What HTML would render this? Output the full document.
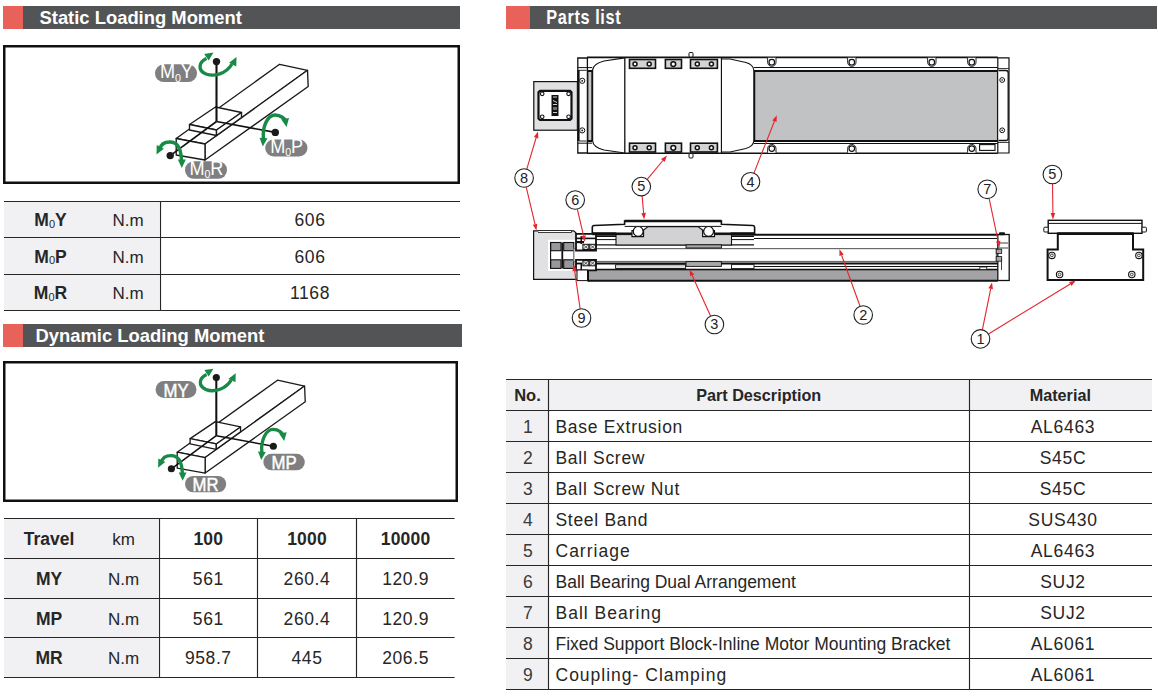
<!DOCTYPE html>
<html><head><meta charset="utf-8"><style>
html,body{margin:0;padding:0;background:#fff;}
body{width:1158px;height:698px;overflow:hidden;position:relative;}
svg{position:absolute;left:0;top:0;font-family:"Liberation Sans", sans-serif;}
</style></head><body>
<svg width="1158" height="698" viewBox="0 0 1158 698">
<rect x="3" y="6" width="20" height="23" fill="#e9625a"/>
<rect x="23" y="6" width="437" height="23" fill="#535456"/>
<text x="39.5" y="24" font-size="18.4" font-weight="bold" fill="#fff" letter-spacing="0">Static Loading Moment</text>
<rect x="3" y="324" width="20" height="23" fill="#e9625a"/>
<rect x="23" y="324" width="439" height="23" fill="#535456"/>
<text x="35.5" y="342" font-size="18.4" font-weight="bold" fill="#fff" letter-spacing="0">Dynamic Loading Moment</text>
<rect x="506" y="6" width="24" height="23" fill="#e9625a"/>
<rect x="530" y="6" width="627" height="23" fill="#535456"/>
<text x="546.5" y="24" font-size="18.6" font-weight="bold" fill="#fff" letter-spacing="-0.3"></text>
<g transform="translate(546.3,23.9) scale(0.83,1)"><text x="0" y="0" font-size="19.6" font-weight="bold" fill="#fff" letter-spacing="0.75">Parts list</text></g>
<rect x="4.25" y="46.25" width="454.5" height="136.5" fill="none" stroke="#111" stroke-width="2.5"/>
<rect x="4.25" y="362.25" width="452.5" height="138.5" fill="none" stroke="#111" stroke-width="2.5"/>
<g transform="translate(0,0)">
<polygon points="176.2,138.5 205,144 307.5,70.3 279.6,64.3" fill="#fff" stroke="#1a1a1a" stroke-width="1.35"  stroke-linejoin="round"/>
<polygon points="205,144 205,160 308.2,86.5 307.5,70.3" fill="#fff" stroke="#1a1a1a" stroke-width="1.35"  stroke-linejoin="round"/>
<polygon points="176.2,138.5 205,144 205,160 176.2,155" fill="#fff" stroke="#1a1a1a" stroke-width="1.35"  stroke-linejoin="round"/>
<polygon points="189.5,124.5 215.5,107 241.5,112.5 216.5,130" fill="#fff" stroke="#1a1a1a" stroke-width="1.35"  stroke-linejoin="round"/>
<polygon points="189.5,124.5 216.5,130 216.5,135.5 189.5,130" fill="#fff" stroke="#1a1a1a" stroke-width="1.35"  stroke-linejoin="round"/>
<polygon points="216.5,130 241.5,112.5 241.5,117.5 216.5,135.5" fill="#fff" stroke="#1a1a1a" stroke-width="1.35"  stroke-linejoin="round"/>
<line x1="216.5" y1="61.6" x2="216.5" y2="121.5" stroke="#111" stroke-width="2.1"/>
<line x1="216.5" y1="121.5" x2="275.3" y2="132.4" stroke="#111" stroke-width="1.6"/>
<line x1="216.5" y1="121.5" x2="170.2" y2="155.6" stroke="#111" stroke-width="1.6"/>
<circle cx="216.5" cy="61.6" r="3.7" fill="#1a1a1a"/>
<circle cx="275.3" cy="132.4" r="3.7" fill="#1a1a1a"/>
<circle cx="170.2" cy="155.6" r="3.7" fill="#1a1a1a"/>
<path d="M206.5,58.5 C199,62 197,70 206,74 C214,77 226,74 232,64" stroke="#178a45" stroke-width="3.4" fill="none" stroke-linecap="butt"/>
<polygon points="213.50,52.50 208.65,60.54 204.21,53.89" fill="#178a45"/>
<polygon points="236.50,57.00 236.28,66.39 229.12,62.81" fill="#178a45"/>
<path d="M263.5,139 C262,126 268,115 275,115 C281,115 285,119 285.5,121" stroke="#178a45" stroke-width="3.4" fill="none" stroke-linecap="butt"/>
<polygon points="262.80,146.50 259.52,137.70 267.49,138.36" fill="#178a45"/>
<polygon points="286.50,127.00 281.16,119.27 289.05,117.96" fill="#178a45"/>
<path d="M160,149 C161,143 166,142 170,142 C177,142 181,147 181.5,160" stroke="#178a45" stroke-width="3.4" fill="none" stroke-linecap="butt"/>
<polygon points="156.50,154.50 156.72,145.11 163.88,148.69" fill="#178a45"/>
<polygon points="181.80,168.00 177.80,159.50 185.80,159.50" fill="#178a45"/>
</g>
<rect x="155" y="64.3" width="42" height="17.700000000000003" rx="8.850000000000001" fill="#7f7f82"/>
<g transform="translate(176.3,78.4) scale(0.93,1)"><text x="0" y="0" text-anchor="middle" font-size="19.5" fill="#fff" letter-spacing="-0.2">M<tspan font-size="11.5" dy="3.2">0</tspan><tspan dy="-3.2">Y</tspan></text></g>
<rect x="265.2" y="139.5" width="42.30000000000001" height="17.0" rx="8.5" fill="#7f7f82"/>
<g transform="translate(286.65000000000003,152.9) scale(0.93,1)"><text x="0" y="0" text-anchor="middle" font-size="19.5" fill="#fff" letter-spacing="-0.2">M<tspan font-size="11.5" dy="3.2">0</tspan><tspan dy="-3.2">P</tspan></text></g>
<rect x="185" y="161.3" width="42" height="17.399999999999977" rx="8.699999999999989" fill="#7f7f82"/>
<g transform="translate(206.3,175.1) scale(0.93,1)"><text x="0" y="0" text-anchor="middle" font-size="19.5" fill="#fff" letter-spacing="-0.2">M<tspan font-size="11.5" dy="3.2">0</tspan><tspan dy="-3.2">R</tspan></text></g>
<g transform="translate(216.3,377.6) scale(0.97) translate(-216.5,-61.6)">
<g transform="translate(0,0)">
<polygon points="176.2,138.5 205,144 307.5,70.3 279.6,64.3" fill="#fff" stroke="#1a1a1a" stroke-width="1.35"  stroke-linejoin="round"/>
<polygon points="205,144 205,160 308.2,86.5 307.5,70.3" fill="#fff" stroke="#1a1a1a" stroke-width="1.35"  stroke-linejoin="round"/>
<polygon points="176.2,138.5 205,144 205,160 176.2,155" fill="#fff" stroke="#1a1a1a" stroke-width="1.35"  stroke-linejoin="round"/>
<polygon points="189.5,124.5 215.5,107 241.5,112.5 216.5,130" fill="#fff" stroke="#1a1a1a" stroke-width="1.35"  stroke-linejoin="round"/>
<polygon points="189.5,124.5 216.5,130 216.5,135.5 189.5,130" fill="#fff" stroke="#1a1a1a" stroke-width="1.35"  stroke-linejoin="round"/>
<polygon points="216.5,130 241.5,112.5 241.5,117.5 216.5,135.5" fill="#fff" stroke="#1a1a1a" stroke-width="1.35"  stroke-linejoin="round"/>
<line x1="216.5" y1="61.6" x2="216.5" y2="121.5" stroke="#111" stroke-width="2.1"/>
<line x1="216.5" y1="121.5" x2="275.3" y2="132.4" stroke="#111" stroke-width="1.6"/>
<line x1="216.5" y1="121.5" x2="170.2" y2="155.6" stroke="#111" stroke-width="1.6"/>
<circle cx="216.5" cy="61.6" r="3.7" fill="#1a1a1a"/>
<circle cx="275.3" cy="132.4" r="3.7" fill="#1a1a1a"/>
<circle cx="170.2" cy="155.6" r="3.7" fill="#1a1a1a"/>
<path d="M206.5,58.5 C199,62 197,70 206,74 C214,77 226,74 232,64" stroke="#178a45" stroke-width="3.4" fill="none" stroke-linecap="butt"/>
<polygon points="213.50,52.50 208.65,60.54 204.21,53.89" fill="#178a45"/>
<polygon points="236.50,57.00 236.28,66.39 229.12,62.81" fill="#178a45"/>
<path d="M263.5,139 C262,126 268,115 275,115 C281,115 285,119 285.5,121" stroke="#178a45" stroke-width="3.4" fill="none" stroke-linecap="butt"/>
<polygon points="262.80,146.50 259.52,137.70 267.49,138.36" fill="#178a45"/>
<polygon points="286.50,127.00 281.16,119.27 289.05,117.96" fill="#178a45"/>
<path d="M160,149 C161,143 166,142 170,142 C177,142 181,147 181.5,160" stroke="#178a45" stroke-width="3.4" fill="none" stroke-linecap="butt"/>
<polygon points="156.50,154.50 156.72,145.11 163.88,148.69" fill="#178a45"/>
<polygon points="181.80,168.00 177.80,159.50 185.80,159.50" fill="#178a45"/>
</g>
</g>
<rect x="155.6" y="381" width="40.900000000000006" height="17" rx="8.5" fill="#7f7f82"/>
<g transform="translate(176.05,396.5) scale(0.93,1)"><text x="0" y="0" text-anchor="middle" font-size="18" fill="#fff" stroke="#fff" stroke-width="0.45">MY</text></g>
<rect x="263.3" y="453.8" width="41.5" height="16.5" rx="8.25" fill="#7f7f82"/>
<g transform="translate(284.05,468.8) scale(0.93,1)"><text x="0" y="0" text-anchor="middle" font-size="18" fill="#fff" stroke="#fff" stroke-width="0.45">MP</text></g>
<rect x="185" y="475.9" width="41.19999999999999" height="16.400000000000034" rx="8.200000000000017" fill="#7f7f82"/>
<g transform="translate(205.6,490.8) scale(0.93,1)"><text x="0" y="0" text-anchor="middle" font-size="18" fill="#fff" stroke="#fff" stroke-width="0.45">MR</text></g>
<rect x="4" y="202" width="155" height="108" fill="#f1f1f4"/>
<line x1="4" y1="201.5" x2="460" y2="201.5" stroke="#262626" stroke-width="1.15"/>
<line x1="4" y1="237.5" x2="460" y2="237.5" stroke="#262626" stroke-width="1.15"/>
<line x1="4" y1="274.5" x2="460" y2="274.5" stroke="#262626" stroke-width="1.15"/>
<line x1="4" y1="310.5" x2="460" y2="310.5" stroke="#262626" stroke-width="1.15"/>
<line x1="160.5" y1="201" x2="160.5" y2="311" stroke="#262626" stroke-width="1.15"/>
<text x="50.5" y="226.3" text-anchor="middle" font-size="17.5" font-weight="bold" fill="#262626">M<tspan font-size="11" font-weight="normal" dy="1.5">0</tspan><tspan dy="-1.5">Y</tspan></text>
<text x="128" y="226.3" font-size="17" font-weight="normal" text-anchor="middle" letter-spacing="0" fill="#262626" >N.m</text>
<text x="310" y="226.3" font-size="17.5" font-weight="normal" text-anchor="middle" letter-spacing="0.6" fill="#262626" >606</text>
<text x="50.5" y="262.8" text-anchor="middle" font-size="17.5" font-weight="bold" fill="#262626">M<tspan font-size="11" font-weight="normal" dy="1.5">0</tspan><tspan dy="-1.5">P</tspan></text>
<text x="128" y="262.8" font-size="17" font-weight="normal" text-anchor="middle" letter-spacing="0" fill="#262626" >N.m</text>
<text x="310" y="262.8" font-size="17.5" font-weight="normal" text-anchor="middle" letter-spacing="0.6" fill="#262626" >606</text>
<text x="50.5" y="299.3" text-anchor="middle" font-size="17.5" font-weight="bold" fill="#262626">M<tspan font-size="11" font-weight="normal" dy="1.5">0</tspan><tspan dy="-1.5">R</tspan></text>
<text x="128" y="299.3" font-size="17" font-weight="normal" text-anchor="middle" letter-spacing="0" fill="#262626" >N.m</text>
<text x="310" y="299.3" font-size="17.5" font-weight="normal" text-anchor="middle" letter-spacing="0.6" fill="#262626" >1168</text>
<rect x="4" y="519" width="154" height="158" fill="#f1f1f4"/>
<line x1="4" y1="518.5" x2="454.6" y2="518.5" stroke="#262626" stroke-width="1.15"/>
<line x1="4" y1="558.5" x2="454.6" y2="558.5" stroke="#262626" stroke-width="1.15"/>
<line x1="4" y1="598.5" x2="454.6" y2="598.5" stroke="#262626" stroke-width="1.15"/>
<line x1="4" y1="637.5" x2="454.6" y2="637.5" stroke="#262626" stroke-width="1.15"/>
<line x1="4" y1="677.5" x2="454.6" y2="677.5" stroke="#262626" stroke-width="1.15"/>
<line x1="159.5" y1="518" x2="159.5" y2="678" stroke="#262626" stroke-width="1.15"/>
<line x1="257.5" y1="518" x2="257.5" y2="678" stroke="#262626" stroke-width="1.15"/>
<line x1="356.5" y1="518" x2="356.5" y2="678" stroke="#262626" stroke-width="1.15"/>
<text x="49" y="545.0" font-size="17.5" font-weight="bold" text-anchor="middle" letter-spacing="0" fill="#262626" >Travel</text>
<text x="123.5" y="545.0" font-size="17" font-weight="normal" text-anchor="middle" letter-spacing="0" fill="#262626" >km</text>
<text x="208.3" y="545.0" font-size="17.5" font-weight="bold" text-anchor="middle" letter-spacing="0.2" fill="#262626" >100</text>
<text x="307" y="545.0" font-size="17.5" font-weight="bold" text-anchor="middle" letter-spacing="0.2" fill="#262626" >1000</text>
<text x="405.6" y="545.0" font-size="17.5" font-weight="bold" text-anchor="middle" letter-spacing="0.2" fill="#262626" >10000</text>
<text x="49" y="585.0" font-size="17.5" font-weight="bold" text-anchor="middle" letter-spacing="0" fill="#262626" >MY</text>
<text x="123.5" y="585.0" font-size="17" font-weight="normal" text-anchor="middle" letter-spacing="0" fill="#262626" >N.m</text>
<text x="208.3" y="585.0" font-size="17.5" font-weight="normal" text-anchor="middle" letter-spacing="0.6" fill="#262626" >561</text>
<text x="307" y="585.0" font-size="17.5" font-weight="normal" text-anchor="middle" letter-spacing="0.6" fill="#262626" >260.4</text>
<text x="405.6" y="585.0" font-size="17.5" font-weight="normal" text-anchor="middle" letter-spacing="0.6" fill="#262626" >120.9</text>
<text x="49" y="624.5" font-size="17.5" font-weight="bold" text-anchor="middle" letter-spacing="0" fill="#262626" >MP</text>
<text x="123.5" y="624.5" font-size="17" font-weight="normal" text-anchor="middle" letter-spacing="0" fill="#262626" >N.m</text>
<text x="208.3" y="624.5" font-size="17.5" font-weight="normal" text-anchor="middle" letter-spacing="0.6" fill="#262626" >561</text>
<text x="307" y="624.5" font-size="17.5" font-weight="normal" text-anchor="middle" letter-spacing="0.6" fill="#262626" >260.4</text>
<text x="405.6" y="624.5" font-size="17.5" font-weight="normal" text-anchor="middle" letter-spacing="0.6" fill="#262626" >120.9</text>
<text x="49" y="664.0" font-size="17.5" font-weight="bold" text-anchor="middle" letter-spacing="0" fill="#262626" >MR</text>
<text x="123.5" y="664.0" font-size="17" font-weight="normal" text-anchor="middle" letter-spacing="0" fill="#262626" >N.m</text>
<text x="208.3" y="664.0" font-size="17.5" font-weight="normal" text-anchor="middle" letter-spacing="0.6" fill="#262626" >958.7</text>
<text x="307" y="664.0" font-size="17.5" font-weight="normal" text-anchor="middle" letter-spacing="0.6" fill="#262626" >445</text>
<text x="405.6" y="664.0" font-size="17.5" font-weight="normal" text-anchor="middle" letter-spacing="0.6" fill="#262626" >206.5</text>
<rect x="506" y="380" width="646" height="30" fill="#f1f1f4"/>
<rect x="506" y="411" width="42" height="278" fill="#f1f1f4"/>
<line x1="506" y1="379.5" x2="1152" y2="379.5" stroke="#262626" stroke-width="1.15"/>
<line x1="506" y1="410.5" x2="1152" y2="410.5" stroke="#262626" stroke-width="1.15"/>
<line x1="506" y1="441.5" x2="1152" y2="441.5" stroke="#262626" stroke-width="1.15"/>
<line x1="506" y1="472.5" x2="1152" y2="472.5" stroke="#262626" stroke-width="1.15"/>
<line x1="506" y1="503.5" x2="1152" y2="503.5" stroke="#262626" stroke-width="1.15"/>
<line x1="506" y1="534.5" x2="1152" y2="534.5" stroke="#262626" stroke-width="1.15"/>
<line x1="506" y1="565.5" x2="1152" y2="565.5" stroke="#262626" stroke-width="1.15"/>
<line x1="506" y1="596.5" x2="1152" y2="596.5" stroke="#262626" stroke-width="1.15"/>
<line x1="506" y1="627.5" x2="1152" y2="627.5" stroke="#262626" stroke-width="1.15"/>
<line x1="506" y1="658.5" x2="1152" y2="658.5" stroke="#262626" stroke-width="1.15"/>
<line x1="506" y1="689.5" x2="1152" y2="689.5" stroke="#262626" stroke-width="1.15"/>
<line x1="548.5" y1="379" x2="548.5" y2="690" stroke="#262626" stroke-width="1.15"/>
<line x1="969.5" y1="379" x2="969.5" y2="690" stroke="#262626" stroke-width="1.15"/>
<text x="527.5" y="400.8" font-size="16.5" font-weight="bold" text-anchor="middle" letter-spacing="0" fill="#262626" >No.</text>
<text x="758.7" y="400.8" font-size="16.2" font-weight="bold" text-anchor="middle" letter-spacing="0" fill="#262626" >Part Description</text>
<text x="1060.3" y="400.8" font-size="16.2" font-weight="bold" text-anchor="middle" letter-spacing="0" fill="#262626" >Material</text>
<text x="527.8" y="432.5" font-size="17.5" font-weight="normal" text-anchor="middle" letter-spacing="0" fill="#3a3a3a" >1</text>
<text x="555.5" y="432.5" font-size="17.5" font-weight="normal" text-anchor="start" letter-spacing="0.7" fill="#262626" >Base Extrusion</text>
<text x="1063" y="432.5" font-size="17.5" font-weight="normal" text-anchor="middle" letter-spacing="0.7" fill="#262626" >AL6463</text>
<text x="527.8" y="463.5" font-size="17.5" font-weight="normal" text-anchor="middle" letter-spacing="0" fill="#3a3a3a" >2</text>
<text x="555.5" y="463.5" font-size="17.5" font-weight="normal" text-anchor="start" letter-spacing="0.7" fill="#262626" >Ball Screw</text>
<text x="1063" y="463.5" font-size="17.5" font-weight="normal" text-anchor="middle" letter-spacing="0.7" fill="#262626" >S45C</text>
<text x="527.8" y="494.5" font-size="17.5" font-weight="normal" text-anchor="middle" letter-spacing="0" fill="#3a3a3a" >3</text>
<text x="555.5" y="494.5" font-size="17.5" font-weight="normal" text-anchor="start" letter-spacing="0.7" fill="#262626" >Ball Screw Nut</text>
<text x="1063" y="494.5" font-size="17.5" font-weight="normal" text-anchor="middle" letter-spacing="0.7" fill="#262626" >S45C</text>
<text x="527.8" y="525.5" font-size="17.5" font-weight="normal" text-anchor="middle" letter-spacing="0" fill="#3a3a3a" >4</text>
<text x="555.5" y="525.5" font-size="17.5" font-weight="normal" text-anchor="start" letter-spacing="0.7" fill="#262626" >Steel Band</text>
<text x="1063" y="525.5" font-size="17.5" font-weight="normal" text-anchor="middle" letter-spacing="0.7" fill="#262626" >SUS430</text>
<text x="527.8" y="556.5" font-size="17.5" font-weight="normal" text-anchor="middle" letter-spacing="0" fill="#3a3a3a" >5</text>
<text x="555.5" y="556.5" font-size="17.5" font-weight="normal" text-anchor="start" letter-spacing="1.0" fill="#262626" >Carriage</text>
<text x="1063" y="556.5" font-size="17.5" font-weight="normal" text-anchor="middle" letter-spacing="0.7" fill="#262626" >AL6463</text>
<text x="527.8" y="587.5" font-size="17.5" font-weight="normal" text-anchor="middle" letter-spacing="0" fill="#3a3a3a" >6</text>
<text x="555.5" y="587.5" font-size="17.5" font-weight="normal" text-anchor="start" letter-spacing="0" fill="#262626" >Ball Bearing Dual Arrangement</text>
<text x="1063" y="587.5" font-size="17.5" font-weight="normal" text-anchor="middle" letter-spacing="0.7" fill="#262626" >SUJ2</text>
<text x="527.8" y="618.5" font-size="17.5" font-weight="normal" text-anchor="middle" letter-spacing="0" fill="#3a3a3a" >7</text>
<text x="555.5" y="618.5" font-size="17.5" font-weight="normal" text-anchor="start" letter-spacing="1.0" fill="#262626" >Ball Bearing</text>
<text x="1063" y="618.5" font-size="17.5" font-weight="normal" text-anchor="middle" letter-spacing="0.7" fill="#262626" >SUJ2</text>
<text x="527.8" y="649.5" font-size="17.5" font-weight="normal" text-anchor="middle" letter-spacing="0" fill="#3a3a3a" >8</text>
<text x="555.5" y="649.5" font-size="17.5" font-weight="normal" text-anchor="start" letter-spacing="0" fill="#262626" >Fixed Support Block-Inline Motor Mounting Bracket</text>
<text x="1063" y="649.5" font-size="17.5" font-weight="normal" text-anchor="middle" letter-spacing="0.7" fill="#262626" >AL6061</text>
<text x="527.8" y="680.5" font-size="17.5" font-weight="normal" text-anchor="middle" letter-spacing="0" fill="#3a3a3a" >9</text>
<text x="555.5" y="680.5" font-size="17.5" font-weight="normal" text-anchor="start" letter-spacing="1.0" fill="#262626" >Coupling- Clamping</text>
<text x="1063" y="680.5" font-size="17.5" font-weight="normal" text-anchor="middle" letter-spacing="0.7" fill="#262626" >AL6061</text>
<rect x="533.8" y="81.6" width="43.6" height="48.6" fill="#e1e1e3" stroke="#111" stroke-width="1.2"/>
<path d="M540,90.8 H570 L571.5,92.3 V118.5 L570,120 H540 L538.5,118.5 V92.3 Z" fill="#fff" stroke="#111" stroke-width="2.2"/>
<circle cx="542.2" cy="93.8" r="1.8" fill="none" stroke="#111" stroke-width="1.1"/>
<circle cx="568.6" cy="93.8" r="1.8" fill="none" stroke="#111" stroke-width="1.1"/>
<circle cx="542.2" cy="116.8" r="1.8" fill="none" stroke="#111" stroke-width="1.1"/>
<circle cx="568.6" cy="116.8" r="1.8" fill="none" stroke="#111" stroke-width="1.1"/>
<rect x="551.5" y="95" width="7" height="21" fill="#111"/>
<path d="M553,97 H557 M553,100.5 L557,102.5 M553,104.5 H557 M554,107 V110 M556,107 V110 M553,112.5 H557" stroke="#fff" stroke-width="0.8" fill="none"/>
<rect x="577.6" y="57.6" width="431.4" height="95.6" fill="#fff" stroke="none"/>
<path d="M577.8,153 V58 H587.4 V153 Z" fill="#fff" stroke="#111" stroke-width="1.3"/>
<line x1="577.8" y1="67.6" x2="592" y2="67.6" stroke="#111" stroke-width="1"/>
<line x1="577.8" y1="143.2" x2="592" y2="143.2" stroke="#111" stroke-width="1"/>
<line x1="578.5" y1="70" x2="578.5" y2="141" stroke="#111" stroke-width="2.2"/>
<path d="M579,70.3 H586.5 M579,141 H586.5" stroke="#111" stroke-width="0.9" fill="none"/>
<circle cx="582.2" cy="80.8" r="2.6" fill="#fff" stroke="#111" stroke-width="1"/><circle cx="582.2" cy="80.8" r="0.9" fill="#111"/>
<circle cx="582.2" cy="130.4" r="2.6" fill="#fff" stroke="#111" stroke-width="1"/><circle cx="582.2" cy="130.4" r="0.9" fill="#111"/>
<rect x="587.9" y="71.5" width="3.9" height="69" fill="#c4c6c8" stroke="#111" stroke-width="1"/>
<rect x="587.6" y="70" width="4.4" height="1.6" fill="#111"/>
<rect x="587.6" y="140.5" width="4.4" height="1.6" fill="#111"/>
<line x1="587" y1="57.4" x2="997.8" y2="57.4" stroke="#111" stroke-width="1.8"/>
<line x1="587" y1="153.2" x2="997.8" y2="153.2" stroke="#111" stroke-width="1.6"/>
<path d="M625,57.8 L604,61 C596,63 593,66 592.6,70 V141 C593,145 596,148 604,150 L625,153" fill="#fff" stroke="#111" stroke-width="1.2"/>
<line x1="624.8" y1="57.8" x2="624.8" y2="153" stroke="#111" stroke-width="1.3"/>
<line x1="721.5" y1="57.8" x2="721.5" y2="153" stroke="#111" stroke-width="1.3"/>
<path d="M722,59 L730,59 L746,62.5 C751,64 753.5,67 753.8,70 V141 C753.5,144 751,147 746,148.5 L730,152 L722,152" fill="#fff" stroke="#111" stroke-width="1.1"/>
<rect x="629.5" y="59.5" width="26.0" height="8.799999999999997" fill="#d3d3d5" stroke="#111" stroke-width="1.6"/>
<circle cx="635" cy="64.1" r="2.0" fill="#fff" stroke="#111" stroke-width="1.5"/>
<circle cx="649.2" cy="64.1" r="2.0" fill="#fff" stroke="#111" stroke-width="1.5"/>
<rect x="629.5" y="143.2" width="26.0" height="8.800000000000011" fill="#d3d3d5" stroke="#111" stroke-width="1.6"/>
<circle cx="635" cy="147.79999999999998" r="2.0" fill="#fff" stroke="#111" stroke-width="1.5"/>
<circle cx="649.2" cy="147.79999999999998" r="2.0" fill="#fff" stroke="#111" stroke-width="1.5"/>
<rect x="665.4" y="59.5" width="16.100000000000023" height="8.799999999999997" fill="#d3d3d5" stroke="#111" stroke-width="1.6"/>
<circle cx="673.3" cy="64.1" r="2.4" fill="#fff" stroke="#111" stroke-width="1.5"/>
<rect x="665.4" y="143.2" width="16.100000000000023" height="8.800000000000011" fill="#d3d3d5" stroke="#111" stroke-width="1.6"/>
<circle cx="673.3" cy="147.79999999999998" r="2.4" fill="#fff" stroke="#111" stroke-width="1.5"/>
<rect x="690.5" y="59.5" width="26.899999999999977" height="8.799999999999997" fill="#d3d3d5" stroke="#111" stroke-width="1.6"/>
<circle cx="697.3" cy="64.1" r="2.0" fill="#fff" stroke="#111" stroke-width="1.5"/>
<circle cx="711.4" cy="64.1" r="2.0" fill="#fff" stroke="#111" stroke-width="1.5"/>
<rect x="690.5" y="143.2" width="26.899999999999977" height="8.800000000000011" fill="#d3d3d5" stroke="#111" stroke-width="1.6"/>
<circle cx="697.3" cy="147.79999999999998" r="2.0" fill="#fff" stroke="#111" stroke-width="1.5"/>
<circle cx="711.4" cy="147.79999999999998" r="2.0" fill="#fff" stroke="#111" stroke-width="1.5"/>
<rect x="689" y="52.5" width="4" height="4.5" rx="1" fill="#fff" stroke="#111" stroke-width="1"/>
<rect x="689" y="153.5" width="4" height="4.5" rx="1" fill="#fff" stroke="#111" stroke-width="1"/>
<line x1="753.8" y1="67.5" x2="997.8" y2="67.5" stroke="#111" stroke-width="1.1"/>
<line x1="753.8" y1="143.5" x2="997.8" y2="143.5" stroke="#111" stroke-width="1.1"/>
<rect x="754.6" y="71.2" width="243" height="69.6" fill="#c0c2c4" stroke="#111" stroke-width="1.3"/>
<line x1="753.8" y1="71" x2="997.8" y2="71" stroke="#111" stroke-width="2.2"/>
<line x1="753.8" y1="141" x2="997.8" y2="141" stroke="#111" stroke-width="2.2"/>
<path d="M767.5999999999999,57.8 V62.2 A4.2,4.2 0 0 0 776.0,62.2 V57.8" fill="#fff" stroke="#111" stroke-width="0.9"/>
<circle cx="771.8" cy="62.2" r="2.8" fill="#fff" stroke="#111" stroke-width="1.2"/>
<path d="M847.5999999999999,57.8 V62.2 A4.2,4.2 0 0 0 856.0,62.2 V57.8" fill="#fff" stroke="#111" stroke-width="0.9"/>
<circle cx="851.8" cy="62.2" r="2.8" fill="#fff" stroke="#111" stroke-width="1.2"/>
<path d="M927.5999999999999,57.8 V62.2 A4.2,4.2 0 0 0 936.0,62.2 V57.8" fill="#fff" stroke="#111" stroke-width="0.9"/>
<circle cx="931.8" cy="62.2" r="2.8" fill="#fff" stroke="#111" stroke-width="1.2"/>
<path d="M967.5999999999999,57.8 V62.2 A4.2,4.2 0 0 0 976.0,62.2 V57.8" fill="#fff" stroke="#111" stroke-width="0.9"/>
<circle cx="971.8" cy="62.2" r="2.8" fill="#fff" stroke="#111" stroke-width="1.2"/>
<path d="M767.5999999999999,152.8 V148.6 A4.2,4.2 0 0 1 776.0,148.6 V152.8" fill="#fff" stroke="#111" stroke-width="0.9"/>
<circle cx="771.8" cy="148.6" r="2.8" fill="#fff" stroke="#111" stroke-width="1.2"/>
<path d="M847.5999999999999,152.8 V148.6 A4.2,4.2 0 0 1 856.0,148.6 V152.8" fill="#fff" stroke="#111" stroke-width="0.9"/>
<circle cx="851.8" cy="148.6" r="2.8" fill="#fff" stroke="#111" stroke-width="1.2"/>
<path d="M967.5999999999999,152.8 V148.6 A4.2,4.2 0 0 1 976.0,148.6 V152.8" fill="#fff" stroke="#111" stroke-width="0.9"/>
<circle cx="971.8" cy="148.6" r="2.8" fill="#fff" stroke="#111" stroke-width="1.2"/>
<rect x="979.6" y="144.6" width="15.4" height="5.8" fill="#fff" stroke="#111" stroke-width="1.1"/>
<path d="M997.8,57.8 H1009 V153 H997.8 Z" fill="#fff" stroke="#111" stroke-width="1.2"/>
<path d="M998,68.5 H1009 M998,142.5 H1009" stroke="#111" stroke-width="0.8" fill="none"/>
<path d="M998.5,70.5 H1006 Q1008.2,70.5 1008.2,73 V138 Q1008.2,140.5 1006,140.5 H998.5" fill="#fff" stroke="#111" stroke-width="1.3"/>
<circle cx="1002.2" cy="80" r="2.4" fill="#fff" stroke="#111" stroke-width="1"/><circle cx="1002.2" cy="80" r="0.8" fill="#111"/>
<circle cx="1002.2" cy="130.3" r="2.4" fill="#fff" stroke="#111" stroke-width="1"/><circle cx="1002.2" cy="130.3" r="0.8" fill="#111"/>
<path d="M533.6,230.8 H573.8 L577.6,234.5 V279.4 H533.6 Z" fill="#e1e1e3" stroke="#111" stroke-width="1.2"/>
<rect x="538.5" y="230.6" width="33" height="1.8" fill="#fff" stroke="#111" stroke-width="0.8"/>
<rect x="548" y="239.8" width="28.5" height="31" fill="#fff"/>
<rect x="550.6" y="242.5" width="10.399999999999977" height="8.199999999999989" fill="#98989c" stroke="#111" stroke-width="1.1"/>
<rect x="550.6" y="259.8" width="10.399999999999977" height="8.599999999999966" fill="#98989c" stroke="#111" stroke-width="1.1"/>
<rect x="563.7" y="242.5" width="10.099999999999909" height="8.199999999999989" fill="#98989c" stroke="#111" stroke-width="1.1"/>
<rect x="563.7" y="259.8" width="10.099999999999909" height="8.599999999999966" fill="#98989c" stroke="#111" stroke-width="1.1"/>
<rect x="561.4" y="242.5" width="1.8" height="25.9" fill="#111"/>
<path d="M550.6,250.7 V259.8 M550.6,242.5 V268.4" stroke="#111" stroke-width="1.1"/>
<line x1="586" y1="234.7" x2="998" y2="234.7" stroke="#111" stroke-width="2"/>
<line x1="754" y1="238.5" x2="998" y2="238.5" stroke="#111" stroke-width="1.1"/>
<line x1="754" y1="266.5" x2="998" y2="266.5" stroke="#111" stroke-width="1.1"/>
<rect x="573.8" y="248.6" width="422.6" height="12.9" fill="#fff" stroke="#6a6a6a" stroke-width="1.2"/>
<line x1="596" y1="263.6" x2="998" y2="263.6" stroke="#111" stroke-width="2"/>
<line x1="596" y1="244.9" x2="754" y2="244.9" stroke="#111" stroke-width="1.4"/>
<rect x="615.6" y="264.7" width="70" height="3.8" fill="#dcdcde" stroke="#111" stroke-width="0.9"/>
<rect x="731.5" y="264.6" width="22.5" height="4" fill="#fff" stroke="#111" stroke-width="0.9"/>
<rect x="587.8" y="270.6" width="409.6" height="9.6" fill="#a3a3a6"/>
<line x1="587.8" y1="269.6" x2="997.8" y2="269.6" stroke="#111" stroke-width="1.8"/>
<line x1="587.8" y1="280.8" x2="997.8" y2="280.8" stroke="#111" stroke-width="2"/>
<line x1="588.4" y1="269.6" x2="588.4" y2="281.8" stroke="#111" stroke-width="1.2"/>
<path d="M576,233.8 H596 V250.5 H576 Z" fill="#fff" stroke="#111" stroke-width="1.8"/>
<path d="M576,259.8 H596 V270.3 H576 Z" fill="#fff" stroke="#111" stroke-width="1.8"/>
<rect x="577" y="270" width="10.5" height="10.6" fill="#fff" stroke="#111" stroke-width="1"/>
<rect x="576" y="237.6" width="20" height="1.6" fill="#111"/>
<rect x="576" y="241" width="8" height="2.2" fill="#111"/>
<rect x="580.5" y="236" width="1.5" height="8" fill="#111"/>
<rect x="576" y="262.6" width="6" height="1.8" fill="#111"/>
<rect x="580.5" y="264" width="1.5" height="6" fill="#111"/>
<path d="M592.3,233.2 V227 Q592.6,225.6 594,225.5 L624.6,224.3 V221 H721.4 V224.3 L752.6,225.5 Q754.4,225.6 754.6,227 V233.2 Z" fill="#fff" stroke="#111" stroke-width="1.6"/>
<path d="M624.6,221 H721.4" stroke="#111" stroke-width="2.6"/>
<rect x="592.3" y="232.4" width="24" height="2.8" fill="#111"/>
<rect x="730.6" y="232.4" width="24" height="2.8" fill="#111"/>
<path d="M624.6,226.4 H721.4" stroke="#111" stroke-width="1"/>
<rect x="616" y="234.6" width="115.5" height="10.4" fill="#d2d2d5" stroke="#111" stroke-width="1.1"/>
<path d="M643.5,236.4 V230 L648.2,226.6 H697.9 L702.6,230 V236.4 Z" fill="#d2d2d5" stroke="#111" stroke-width="1.1"/>
<rect x="617" y="235.6" width="113.5" height="2" fill="#d2d2d5"/>
<rect x="644.4" y="234.2" width="57.3" height="3" fill="#d2d2d5"/>
<path d="M632,236.6 V230.6 H643.5 V236.6 Z" fill="#fff" stroke="#111" stroke-width="1.2"/>
<path d="M702.6,236.6 V230.6 H714.5 V236.6 Z" fill="#fff" stroke="#111" stroke-width="1.2"/>
<circle cx="638.2" cy="231.4" r="4.9" fill="#fff" stroke="#111" stroke-width="1.2"/>
<circle cx="708.6" cy="231.4" r="4.9" fill="#fff" stroke="#111" stroke-width="1.2"/>
<path d="M596,236.5 H616 M596,239.6 H616 M731.5,236.5 H754 M731.5,239.6 H754" stroke="#111" stroke-width="1" fill="none"/>
<rect x="686" y="244.8" width="35.4" height="3.2" fill="#a8a8ab" stroke="#111" stroke-width="0.9"/>
<rect x="686" y="261.6" width="35.4" height="4.8" fill="#a8a8ab" stroke="#111" stroke-width="0.9"/>
<rect x="582.9" y="244.3" width="5.9" height="5.2" fill="#e8e8ea" stroke="#111" stroke-width="1"/>
<path d="M582.9,244.3 L588.8,249.5 M588.8,244.3 L582.9,249.5" stroke="#111" stroke-width="0.6"/>
<rect x="582.9" y="260.6" width="5.9" height="5.2" fill="#e8e8ea" stroke="#111" stroke-width="1"/>
<path d="M582.9,260.6 L588.8,265.8 M588.8,260.6 L582.9,265.8" stroke="#111" stroke-width="0.6"/>
<rect x="589.7" y="244.3" width="5.9" height="5.2" fill="#e8e8ea" stroke="#111" stroke-width="1"/>
<path d="M589.7,244.3 L595.6,249.5 M595.6,244.3 L589.7,249.5" stroke="#111" stroke-width="0.6"/>
<rect x="589.7" y="260.6" width="5.9" height="5.2" fill="#e8e8ea" stroke="#111" stroke-width="1"/>
<path d="M589.7,260.6 L595.6,265.8 M595.6,260.6 L589.7,265.8" stroke="#111" stroke-width="0.6"/>
<rect x="997.8" y="234.5" width="11.4" height="46" fill="#fff" stroke="#111" stroke-width="1.3"/>
<path d="M998,243 H1008 M998,248 H1008 M1001.5,258 V270" stroke="#111" stroke-width="0.8" fill="none"/>
<rect x="999" y="232.2" width="6" height="3" rx="1" fill="#111"/>
<rect x="996.2" y="249.2" width="5.5" height="4.2" fill="#a8a8ab" stroke="#111" stroke-width="0.8"/>
<rect x="996.2" y="256.6" width="5.5" height="4.6" fill="#a8a8ab" stroke="#111" stroke-width="0.8"/>
<rect x="979.8" y="267" width="7" height="2.6" fill="#fff" stroke="#111" stroke-width="0.8"/>
<rect x="1048.2" y="220.3" width="93.8" height="13" fill="#fff" stroke="#111" stroke-width="1.4"/>
<line x1="1048.2" y1="223.4" x2="1142" y2="223.4" stroke="#111" stroke-width="1"/>
<rect x="1043.8" y="227.2" width="4.4" height="4.8" rx="1" fill="#fff" stroke="#111" stroke-width="1"/>
<rect x="1142" y="227.2" width="4.4" height="4.8" rx="1" fill="#fff" stroke="#111" stroke-width="1"/>
<path d="M1057.8,233.5 V249.6 H1047.6 V280 H1143.2 V249.6 H1133 V233.5 Z" fill="#fff" stroke="#111" stroke-width="2"/>
<line x1="1057.8" y1="233.8" x2="1133" y2="233.8" stroke="#111" stroke-width="2.4"/>
<circle cx="1051.9" cy="255.4" r="3.2" fill="#fff" stroke="#111" stroke-width="1.1"/><circle cx="1051.9" cy="255.4" r="1.4" fill="#fff" stroke="#111" stroke-width="0.8"/>
<circle cx="1138.9" cy="255.4" r="3.2" fill="#fff" stroke="#111" stroke-width="1.1"/><circle cx="1138.9" cy="255.4" r="1.4" fill="#fff" stroke="#111" stroke-width="0.8"/>
<circle cx="1059.6" cy="274.5" r="3.2" fill="#fff" stroke="#111" stroke-width="1.1"/><circle cx="1059.6" cy="274.5" r="1.4" fill="#fff" stroke="#111" stroke-width="0.8"/>
<circle cx="1131.8" cy="274.5" r="3.2" fill="#fff" stroke="#111" stroke-width="1.1"/><circle cx="1131.8" cy="274.5" r="1.4" fill="#fff" stroke="#111" stroke-width="0.8"/>
<line x1="526.763544040509" y1="169.08958288606706" x2="536.14" y2="137.73" stroke="#e3262d" stroke-width="1.1"/>
<polygon points="538.00,131.50 538.34,138.39 533.93,137.07" fill="#e3262d"/>
<line x1="526.2377523524315" y1="187.0509676211814" x2="535.01" y2="224.17" stroke="#e3262d" stroke-width="1.1"/>
<polygon points="536.50,230.50 532.77,224.70 537.24,223.65" fill="#e3262d"/>
<line x1="647.2241887917422" y1="179.43104002244425" x2="662.86" y2="160.51" stroke="#e3262d" stroke-width="1.1"/>
<polygon points="667.00,155.50 664.63,161.98 661.09,159.05" fill="#e3262d"/>
<line x1="642.1165906452989" y1="195.8640800794256" x2="643.63" y2="213.03" stroke="#e3262d" stroke-width="1.1"/>
<polygon points="644.20,219.50 641.34,213.23 645.92,212.82" fill="#e3262d"/>
<line x1="753.9158315864348" y1="173.15002343511185" x2="774.41" y2="121.25" stroke="#e3262d" stroke-width="1.1"/>
<polygon points="776.80,115.20 776.55,122.09 772.27,120.40" fill="#e3262d"/>
<line x1="577.3132354251397" y1="209.05672325059868" x2="583.52" y2="235.67" stroke="#e3262d" stroke-width="1.1"/>
<polygon points="585.00,242.00 581.28,236.19 585.76,235.15" fill="#e3262d"/>
<line x1="989.1198304403705" y1="198.39968411980476" x2="998.16" y2="241.24" stroke="#e3262d" stroke-width="1.1"/>
<polygon points="999.50,247.60 995.91,241.71 1000.41,240.77" fill="#e3262d"/>
<line x1="1052.5239889792472" y1="183.79917344353922" x2="1052.91" y2="213.00" stroke="#e3262d" stroke-width="1.1"/>
<polygon points="1053.00,219.50 1050.61,213.03 1055.21,212.97" fill="#e3262d"/>
<line x1="580.1582967936286" y1="308.79729211014427" x2="574.64" y2="270.93" stroke="#e3262d" stroke-width="1.1"/>
<polygon points="573.70,264.50 576.91,270.60 572.36,271.26" fill="#e3262d"/>
<line x1="710.5644033240412" y1="316.0277985069184" x2="692.18" y2="275.42" stroke="#e3262d" stroke-width="1.1"/>
<polygon points="689.50,269.50 694.28,274.47 690.09,276.37" fill="#e3262d"/>
<line x1="860.0367344406137" y1="306.2545011005203" x2="841.61" y2="255.31" stroke="#e3262d" stroke-width="1.1"/>
<polygon points="839.40,249.20 843.77,254.53 839.45,256.09" fill="#e3262d"/>
<line x1="982.3548876952958" y1="329.7868561057207" x2="990.70" y2="288.77" stroke="#e3262d" stroke-width="1.1"/>
<polygon points="992.00,282.40 992.96,289.23 988.45,288.31" fill="#e3262d"/>
<line x1="988.433256670487" y1="334.0468115016853" x2="1070.26" y2="283.99" stroke="#e3262d" stroke-width="1.1"/>
<polygon points="1075.80,280.60 1071.46,285.95 1069.05,282.03" fill="#e3262d"/>
<circle cx="524.1" cy="178" r="9.3" fill="#fff" stroke="#222" stroke-width="1.1"/>
<text x="524.1" y="182.8" text-anchor="middle" font-size="14.5" fill="#222">8</text>
<circle cx="641.3" cy="186.6" r="9.3" fill="#fff" stroke="#222" stroke-width="1.1"/>
<text x="641.3" y="191.4" text-anchor="middle" font-size="14.5" fill="#222">5</text>
<circle cx="750.5" cy="181.8" r="9.3" fill="#fff" stroke="#222" stroke-width="1.1"/>
<text x="750.5" y="186.60000000000002" text-anchor="middle" font-size="14.5" fill="#222">4</text>
<circle cx="575.2" cy="200" r="9.3" fill="#fff" stroke="#222" stroke-width="1.1"/>
<text x="575.2" y="204.8" text-anchor="middle" font-size="14.5" fill="#222">6</text>
<circle cx="987.2" cy="189.3" r="9.3" fill="#fff" stroke="#222" stroke-width="1.1"/>
<text x="987.2" y="194.10000000000002" text-anchor="middle" font-size="14.5" fill="#222">7</text>
<circle cx="1052.4" cy="174.5" r="9.3" fill="#fff" stroke="#222" stroke-width="1.1"/>
<text x="1052.4" y="179.3" text-anchor="middle" font-size="14.5" fill="#222">5</text>
<circle cx="581.5" cy="318" r="9.3" fill="#fff" stroke="#222" stroke-width="1.1"/>
<text x="581.5" y="322.8" text-anchor="middle" font-size="14.5" fill="#222">9</text>
<circle cx="714.4" cy="324.5" r="9.3" fill="#fff" stroke="#222" stroke-width="1.1"/>
<text x="714.4" y="329.3" text-anchor="middle" font-size="14.5" fill="#222">3</text>
<circle cx="863.2" cy="315" r="9.3" fill="#fff" stroke="#222" stroke-width="1.1"/>
<text x="863.2" y="319.8" text-anchor="middle" font-size="14.5" fill="#222">2</text>
<circle cx="980.5" cy="338.9" r="9.3" fill="#fff" stroke="#222" stroke-width="1.1"/>
<text x="980.5" y="343.7" text-anchor="middle" font-size="14.5" fill="#222">1</text>
</svg>
</body></html>
